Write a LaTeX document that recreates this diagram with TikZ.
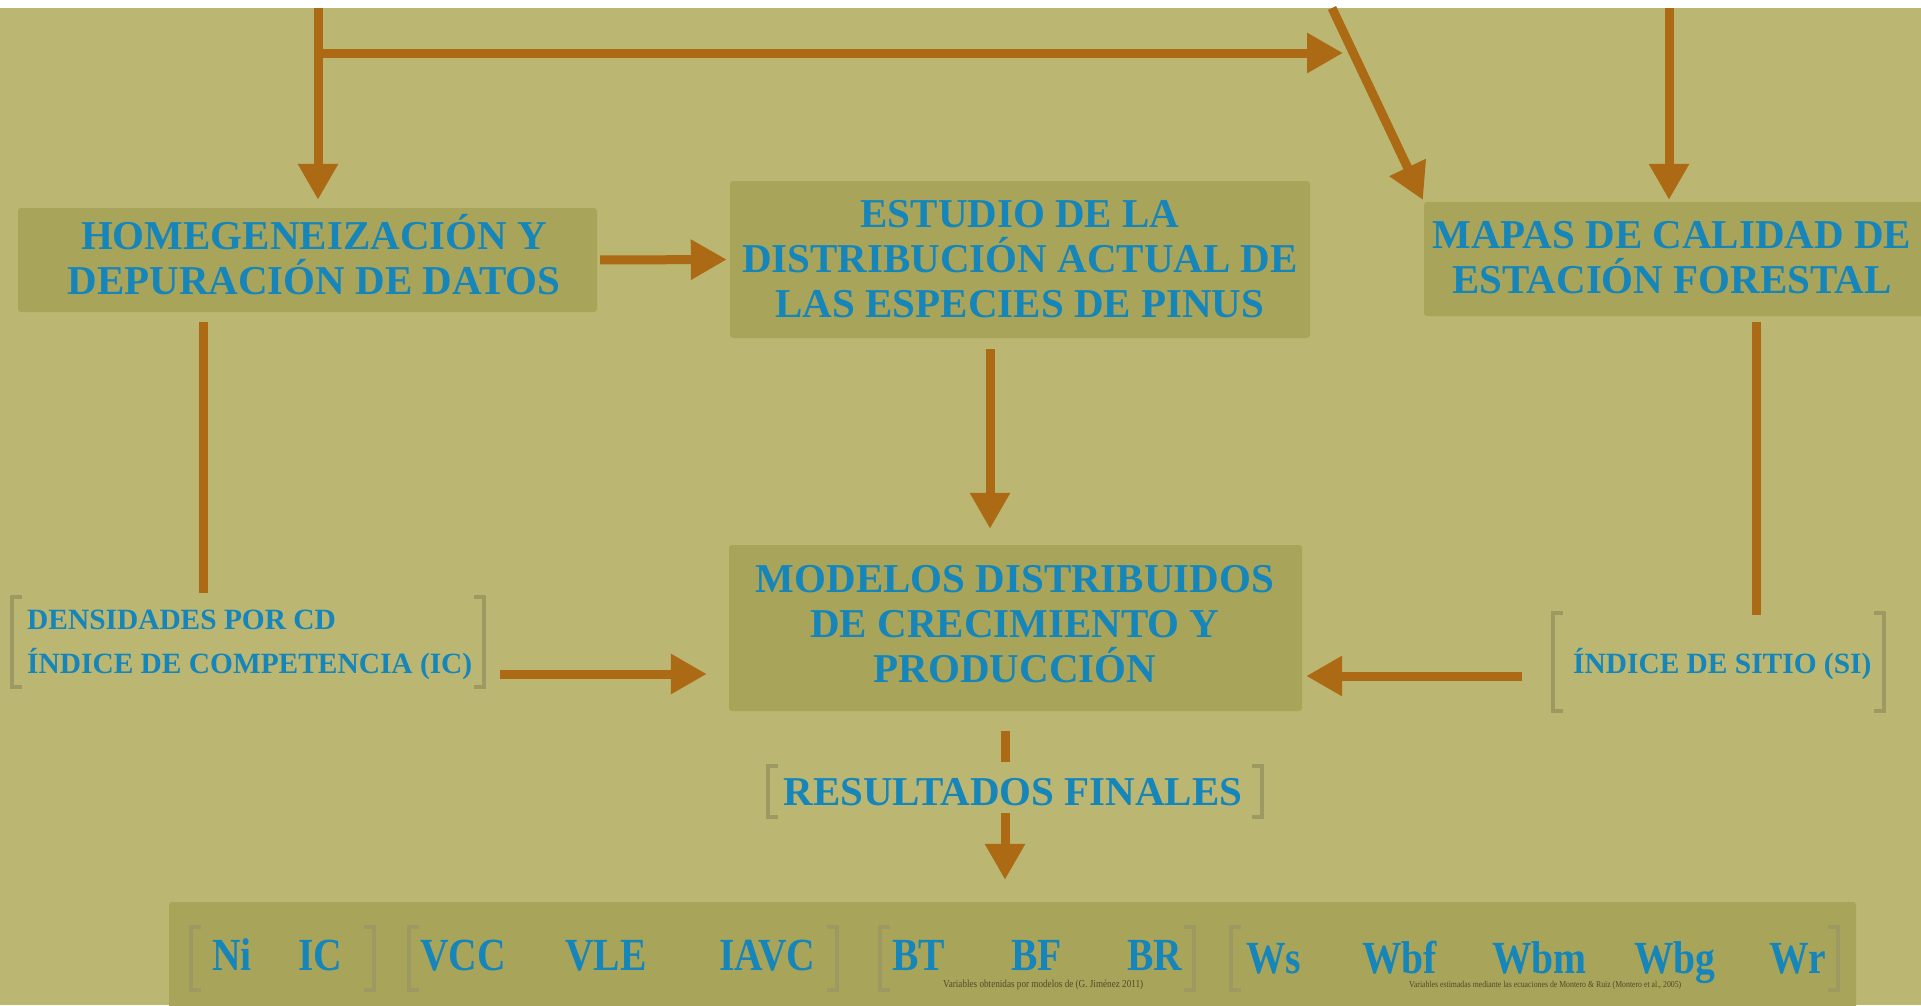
\documentclass[tikz,border=0pt]{standalone}
\usepackage{fontspec}
\setmainfont{Liberation Serif}
\newfontfamily\condfont{Liberation Serif}[FakeStretch=0.86]
\usetikzlibrary{arrows.meta}
\definecolor{bgcol}{HTML}{BBB671}
\definecolor{panelcol}{HTML}{A8A45A}
\definecolor{txtblue}{HTML}{1585BA}
\definecolor{arrowcol}{HTML}{AC6A14}
\definecolor{brkcol}{HTML}{9C9962}
\definecolor{notecol}{HTML}{4E4A2A}
\begin{document}
\begin{tikzpicture}[x=1pt,y=-1pt,
  panel/.style={fill=panelcol, rounded corners=3pt, inner sep=0pt, draw=none},
  head/.style={text=txtblue, font=\bfseries\fontsize{41}{45}\selectfont, inner sep=0pt, anchor=base},
  sub/.style={text=txtblue, font=\bfseries\fontsize{29.4}{34}\selectfont, inner sep=0pt, anchor=base west},
  var/.style={text=txtblue, font=\condfont\bfseries\fontsize{46}{50}\selectfont, inner sep=0pt, anchor=base west},
  note/.style={text=notecol, font=\condfont\fontsize{8}{9}\selectfont, inner sep=0pt, anchor=base west},
  flow/.style={draw=arrowcol, line width=9pt, -{Triangle[length=36pt,width=38pt]}},
  link/.style={draw=arrowcol, line width=9pt},
  brk/.style={draw=brkcol, line width=4pt},
]
\useasboundingbox (0,0) rectangle (1921,1005);
\fill[bgcol] (0,0) rectangle (1921,1005);
\fill[white] (0,0) rectangle (1921,8);

% panels
\node[panel, minimum width=579pt, minimum height=104pt] (b1) at (307.5,260) {};
\node[panel, minimum width=580pt, minimum height=157pt] (b2) at (1020,259.5) {};
\node[panel, minimum width=506pt, minimum height=114pt] (b3) at (1677,259) {};
\node[panel, minimum width=573pt, minimum height=166pt] (b4) at (1015.5,628) {};
\node[panel, minimum width=1687pt, minimum height=110pt] (bar) at (1012.5,957) {};

% panel texts
\node[head] (t1a) at (314,249) {HOMEGENEIZACIÓN Y};
\node[head] (t1b) at (314,294) {DEPURACIÓN DE DATOS};
\node[head] (t2a) at (1020,227) {ESTUDIO DE LA};
\node[head] (t2b) at (1020,272) {DISTRIBUCIÓN ACTUAL DE};
\node[head] (t2c) at (1020,317) {LAS ESPECIES DE PINUS};
\node[head] (t3a) at (1672,248) {MAPAS DE CALIDAD DE};
\node[head] (t3b) at (1672,293) {ESTACIÓN FORESTAL};
\node[head] (t4a) at (1015,592) {MODELOS DISTRIBUIDOS};
\node[head] (t4b) at (1015,637) {DE CRECIMIENTO Y};
\node[head] (t4c) at (1015,682) {PRODUCCIÓN};

% bracketed labels
\node[sub] (la) at (27,629) {DENSIDADES POR CD};
\node[sub] (lb) at (27,673) {ÍNDICE DE COMPETENCIA (IC)};
\node[sub] (si) at (1573,673) {ÍNDICE DE SITIO (SI)};
\node[head] (res) at (1013,805) {RESULTADOS FINALES};

\draw[brk] (22,597) -- (12,597) -- (12,687) -- (22,687);
\draw[brk] (474,597) -- (484,597) -- (484,687) -- (474,687);
\draw[brk] (1563,613) -- (1553,613) -- (1553,711) -- (1563,711);
\draw[brk] (1874,613) -- (1884,613) -- (1884,711) -- (1874,711);
\draw[brk] (778,766) -- (768,766) -- (768,817) -- (778,817);
\draw[brk] (1252,766) -- (1262,766) -- (1262,817) -- (1252,817);

% result variables
\draw[brk] (201,927) -- (191,927) -- (191,990) -- (201,990);
\draw[brk] (364,927) -- (374,927) -- (374,990) -- (364,990);
\draw[brk] (419,927) -- (409,927) -- (409,990) -- (419,990);
\draw[brk] (827,927) -- (837,927) -- (837,990) -- (827,990);
\draw[brk] (890,927) -- (880,927) -- (880,990) -- (890,990);
\draw[brk] (1184,927) -- (1194,927) -- (1194,990) -- (1184,990);
\draw[brk] (1241,927) -- (1231,927) -- (1231,990) -- (1241,990);
\draw[brk] (1828,927) -- (1838,927) -- (1838,990) -- (1828,990);

\node[var] (vNi) at (212,970) {Ni};
\node[var] (vIC) at (298,970) {IC};
\node[var] (vVCC) at (420,970) {VCC};
\node[var] (vVLE) at (565,970) {VLE};
\node[var] (vIAVC) at (719,970) {IAVC};
\node[var] (vBT) at (892,970) {BT};
\node[var] (vBF) at (1011,970) {BF};
\node[var] (vBR) at (1127,970) {BR};
\node[var] (vWs) at (1246,973) {Ws};
\node[var] (vWbf) at (1362,973) {Wbf};
\node[var] (vWbm) at (1492,973) {Wbm};
\node[var] (vWbg) at (1634,973) {Wbg};
\node[var] (vWr) at (1769,973) {Wr};
\node[note] (n1) at (943,987) {\resizebox{200pt}{!}{Variables obtenidas por modelos de (G. Jiménez 2011)}};
\node[note] (n2) at (1409,987) {\resizebox{272pt}{!}{Variables estimadas mediante las ecuaciones de Montero \& Ruiz (Montero et al., 2005)}};

% connector coordinates
\coordinate (top1) at (318,8);
\coordinate (br1) at (314,53);
\coordinate (br2) at (1343,53);
\coordinate (top3) at (1332,8);
\coordinate (top4) at (1669,8);
\coordinate (col2) at (990,0);
\coordinate (lt) at (203,593);
\coordinate (rt) at (1756,615);
\coordinate (lbr) at (500,674);
\coordinate (rbr) at (1522,676);
\coordinate (rs) at (1005,762);
\coordinate (rr) at (1005,813);

% connectors
\draw[flow, shorten >=8pt] (top1) -- (top1 |- b1.north);
\draw[flow] (br1) -- (br2);
\draw[flow, shorten >=2pt] (top3) -- (b3.north west);
\draw[flow, shorten >=2pt] (top4) -- (top4 |- b3.north);
\draw[flow, shorten <=3pt, shorten >=3pt] (b1.east) -- (b2.west);
\draw[flow, shorten <=11pt, shorten >=16pt] (b2.south -| col2) -- (b4.north -| col2);
\draw[link, shorten <=10pt] (lt |- b1.south) -- (lt);
\draw[link, shorten <=6pt] (rt |- b3.south) -- (rt);
\draw[flow, shorten >=22pt] (lbr) -- (lbr -| b4.west);
\draw[flow, shorten >=4pt] (rbr) -- (rbr -| b4.east);
\draw[link, shorten <=20pt] (rs |- b4.south) -- (rs);
\draw[flow, shorten >=22pt] (rr) -- (rr |- bar.north);
\end{tikzpicture}
\end{document}
